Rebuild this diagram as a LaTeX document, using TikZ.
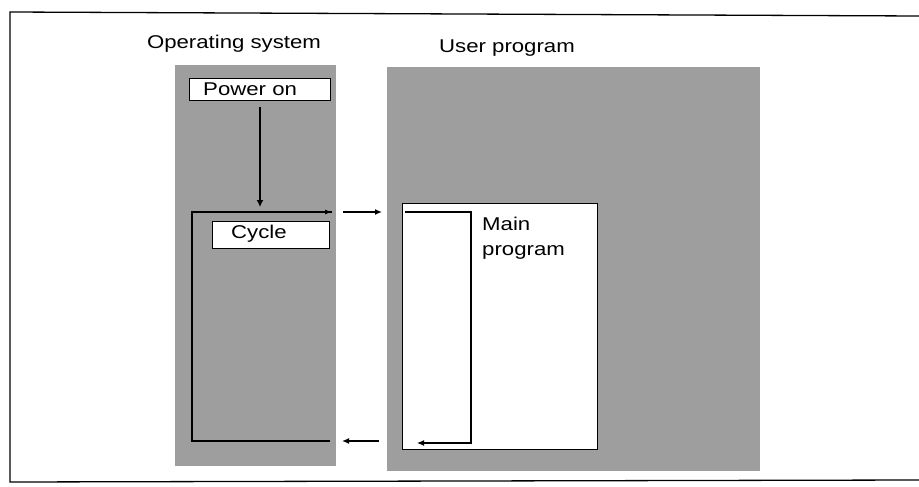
\documentclass[tikz,border=0pt]{standalone}
\usepackage{fontspec}
\setmainfont{Liberation Sans}[FakeStretch=1.2]
\usetikzlibrary{arrows.meta}
\definecolor{panelgray}{RGB}{158,158,158}
\tikzset{
  panel/.style={fill=panelgray, draw=none},
  lbl/.style={font=\fontsize{18.5}{25}\selectfont, inner sep=0pt},
  whitebox/.style={draw=black, line width=1.4pt, fill=white, inner sep=0pt},
  flow/.style={line width=1.5pt, draw=black},
  arr/.style={flow, -{Latex[length=7pt,width=6pt]}},
}
\begin{document}
\begin{tikzpicture}[x=1pt,y=-1pt]
\useasboundingbox (0,0) rectangle (919,487);
\fill[white] (0,0) rectangle (919,487);
% outer frame
\draw[line width=1.3pt] (919,16) -- (10,12) -- (10,482) -- (919,480);
% panels
\fill[panel] (175,65) rectangle (336,466);
\fill[panel] (387,67) rectangle (760,471);
\node[lbl] (oslbl) at (234,44) {Operating system};
\node[lbl] (uplbl) at (507,48) {User program};
% OS boxes
\node[whitebox, minimum width=141pt, minimum height=22pt, anchor=north west] (power) at (189,78) {};
\node[lbl, anchor=west] (powertxt) at (203,89) {Power on};
\node[whitebox, minimum width=117pt, minimum height=27pt, anchor=north west] (cycle) at (212,221) {};
\node[lbl, anchor=west] (cycletxt) at (231,234) {Cycle};
% loop in OS
\coordinate (looptop) at (260,207);
\coordinate (tl) at (192,212);
\coordinate (tr) at (332,212);
\coordinate (bl) at (192,441);
\coordinate (br) at (330,441);
\draw[flow, line width=2.5pt, -{Latex[length=7pt,width=7pt]}] (power.south -| looptop) ++(0,6) -- (looptop);
\draw[flow, line width=1.2pt] (br) -- (bl) -- (tl) -- (tr);
\draw[-{Latex[length=7pt,width=5pt]}, line width=1.2pt] (tl) -- (tr);
% transfer arrows
\coordinate (a1s) at (343,212);
\coordinate (a1e) at (382,212);
\draw[arr, line width=2pt] (a1s) -- (a1e);
\coordinate (a2s) at (379,441);
\coordinate (a2e) at (342,441);
\draw[arr, line width=2pt] (a2s) -- (a2e);
% main program
\node[whitebox, minimum width=195pt, minimum height=246pt, anchor=north west] (main) at (402,203) {};
\node[lbl, anchor=north west, align=left] (maintxt) at (482,217) {Main\\program};
\coordinate (m1) at (405,212);
\coordinate (m2) at (471,212);
\coordinate (m3) at (471,443);
\coordinate (m4) at (417,443);
\draw[line width=1.2pt, -{Latex[length=7pt,width=6pt]}] (m1) -- (m2) -- (m3) -- (m4);
\end{tikzpicture}
\end{document}
